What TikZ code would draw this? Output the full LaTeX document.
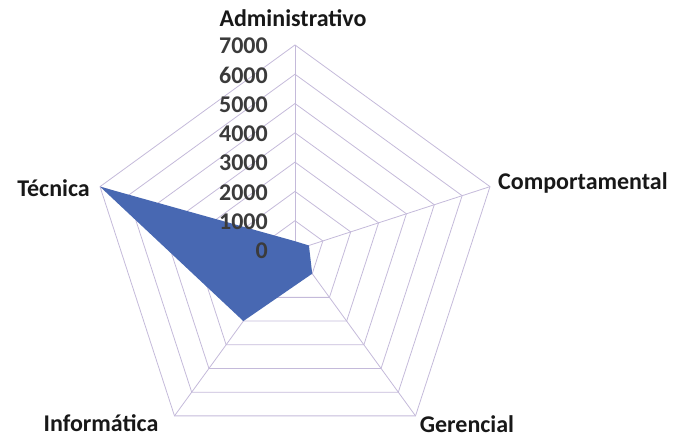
\documentclass[tikz,border=0pt]{standalone}
\usepackage{fontspec}
\setmainfont{Carlito}
\usepackage{tikz}
\usetikzlibrary{calc}
\definecolor{radar-blue}{RGB}{72,104,178}
\definecolor{grid-lilac}{RGB}{196,186,218}
\definecolor{label-black}{RGB}{24,24,24}
\tikzstyle{radar}=[x=1pt, y=1pt]
\tikzstyle{gridline}=[draw=grid-lilac, line width=.8pt, line join=miter]
\tikzstyle{filled}=[fill=radar-blue]
\tikzstyle{axislabel}=[font=\fontsize{24}{27}\selectfont\bfseries, text=label-black, inner sep=1pt]
\tikzstyle{ticklabel}=[font=\fontsize{24}{27}\selectfont\bfseries, text=label-black!85, anchor=east, inner sep=1pt]
\newcommand{\ringstep}{29.29}

\begin{document}
\begin{tikzpicture}[radar]
	\useasboundingbox (0,0) rectangle (673,439);
	\begin{scope}[shift={(295,189)}]
	\coordinate (o) at (0,0);
	% rings and spokes
	\foreach \r in {1,...,7}
		\draw[gridline] (90:\r*\ringstep) -- (18:\r*\ringstep) -- (-54:\r*\ringstep) -- (-126:\r*\ringstep) -- (162:\r*\ringstep) -- cycle;
	\foreach \a/\n in {90/adm,18/com,-54/ger,-126/inf,162/tec} {
		\coordinate (\n) at (\a:7*\ringstep);
		\draw[gridline] (o) -- (\n);
	}
	% values
	\coordinate (v-adm) at (90:.3*\ringstep);
	\coordinate (v-com) at (18:.5*\ringstep);
	\coordinate (v-ger) at (-54:1*\ringstep);
	\coordinate (v-inf) at (-126:3*\ringstep);
	\coordinate (v-tec) at (162:7*\ringstep);
	\fill[filled] (v-adm) -- (v-com) -- (v-ger) -- (v-inf) -- (v-tec) -- cycle;
	% labels
	\foreach \k/\t in {0/0,1/1000,2/2000,3/3000,4/4000,5/5000,6/6000,7/7000}
		\node[ticklabel] (tick-\k) at (-26,\k*\ringstep-1) {\t};
	\node[axislabel] (adm-label) at (-2,232) {Administrativo};
	\node[axislabel, anchor=west] (com-label) at (202,67) {Comportamental};
	\node[axislabel] (ger-label) at (172,-174) {Gerencial};
	\node[axislabel] (inf-label) at (-194,-173) {Informática};
	\node[axislabel, anchor=east] (tec-label) at (-204,62) {Técnica};
	\end{scope}
\end{tikzpicture}
\end{document}
